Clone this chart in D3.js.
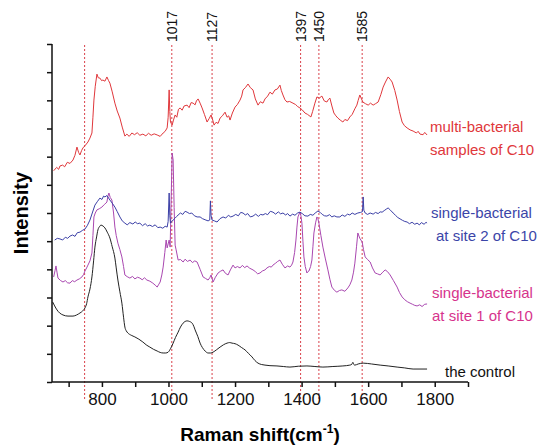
<!DOCTYPE html>
<html>
<head>
<meta charset="utf-8">
<script src="https://cdnjs.cloudflare.com/ajax/libs/d3/7.8.5/d3.min.js"></script>
<style>
body { margin:0; background:#fff; }
text { font-family: "Liberation Sans", Arial, sans-serif; }
</style>
</head>
<body>
<div id="chart"></div>
<script>
var width = 539;
var height = 445;

// spectra, [Raman shift, intensity]
var multiBacterial = [[655,7.50],[664,7.62],[670,7.55],[674,7.67],[682,7.70],[688,7.64],[696,7.80],[704,7.76],[713,7.88],[719,8.05],[725,8.34],[730,8.15],[734,8.06],[739,8.22],[743,8.31],[750,8.40],[758,8.52],[764,8.66],[770,8.84],[773,9.40],[776,10.01],[780,10.50],[785,10.93],[789,10.80],[794,10.79],[799,10.70],[803,10.72],[809,10.68],[815,10.83],[820,10.70],[824,10.61],[831,10.30],[839,9.90],[846,9.62],[854,9.37],[861,9.05],[869,8.73],[875,8.80],[882,8.72],[890,8.84],[898,8.78],[906,8.85],[914,8.76],[923,8.80],[932,8.74],[940,8.83],[948,8.76],[957,8.81],[966,8.77],[975,8.72],[984,8.84],[990,8.90],[996,9.02],[999,9.40],[1002,10.37],[1004,9.60],[1006,9.23],[1011,9.12],[1015,9.30],[1020,9.48],[1025,9.40],[1030,9.68],[1035,9.73],[1041,9.65],[1047,9.80],[1056,9.83],[1062,9.74],[1068,9.92],[1074,9.90],[1080,9.84],[1084,9.98],[1089,10.05],[1095,9.90],[1101,9.73],[1108,9.50],[1116,9.23],[1122,9.35],[1128,9.48],[1133,9.30],[1137,9.12],[1143,9.22],[1149,9.18],[1155,9.37],[1162,9.45],[1170,9.58],[1176,9.40],[1181,9.45],[1185,9.30],[1192,9.55],[1200,9.76],[1207,9.85],[1215,10.01],[1220,10.15],[1224,10.37],[1231,10.45],[1239,10.58],[1246,10.45],[1254,10.37],[1261,10.05],[1269,9.83],[1276,9.95],[1284,9.90],[1290,10.05],[1298,10.15],[1305,10.29],[1312,10.22],[1320,10.37],[1327,10.40],[1335,10.54],[1339,10.35],[1344,10.19],[1350,10.02],[1356,9.94],[1364,9.96],[1374,9.90],[1382,9.85],[1388,9.78],[1395,9.73],[1402,9.66],[1410,9.55],[1418,9.50],[1428,9.41],[1433,9.60],[1440,9.90],[1446,10.12],[1453,10.08],[1461,10.15],[1468,9.98],[1476,9.94],[1480,10.02],[1485,10.08],[1491,9.80],[1497,9.55],[1503,9.45],[1509,9.37],[1516,9.30],[1524,9.23],[1530,9.32],[1538,9.28],[1545,9.41],[1552,9.50],[1560,9.70],[1566,9.83],[1570,10.00],[1575,10.19],[1580,10.05],[1584,9.94],[1592,9.88],[1600,9.83],[1607,9.90],[1615,9.83],[1622,9.88],[1630,9.94],[1638,10.20],[1645,10.47],[1652,10.65],[1660,10.83],[1666,10.75],[1672,10.65],[1680,10.35],[1687,10.01],[1694,9.60],[1702,9.23],[1709,9.10],[1717,9.02],[1726,8.95],[1735,8.91],[1745,8.84],[1750,8.90],[1756,8.80],[1765,8.78],[1770,8.86],[1777,8.77]];

var site2 = [[658,5.04],[666,5.10],[674,5.08],[682,5.04],[690,5.14],[697,5.10],[704,5.18],[712,5.22],[719,5.17],[726,5.30],[734,5.32],[741,5.38],[749,5.43],[756,5.55],[764,5.75],[771,6.00],[779,6.28],[786,6.40],[794,6.53],[800,6.48],[805,6.60],[809,6.57],[815,6.62],[824,6.46],[831,6.35],[839,6.21],[846,6.05],[854,5.86],[861,5.72],[869,5.64],[876,5.58],[884,5.66],[893,5.61],[900,5.68],[907,5.62],[914,5.64],[922,5.55],[930,5.62],[937,5.54],[944,5.57],[952,5.52],[960,5.58],[968,5.48],[975,5.50],[983,5.46],[990,5.53],[996,5.50],[999,5.70],[1002,6.71],[1004,5.90],[1006,5.64],[1010,5.70],[1014,5.75],[1020,5.82],[1025,5.88],[1029,5.93],[1036,6.00],[1043,5.95],[1050,6.06],[1056,6.03],[1063,5.98],[1070,6.00],[1078,5.90],[1086,5.86],[1095,5.86],[1102,5.80],[1110,5.76],[1119,5.72],[1124,5.75],[1126,6.43],[1128,5.90],[1131,5.75],[1138,5.72],[1146,5.68],[1155,5.80],[1164,5.86],[1172,5.82],[1180,5.92],[1187,5.86],[1194,5.89],[1202,5.95],[1210,5.90],[1217,6.02],[1224,6.00],[1231,5.93],[1238,5.98],[1246,5.86],[1254,5.89],[1262,5.96],[1270,5.88],[1277,5.95],[1284,5.93],[1291,5.98],[1298,5.94],[1306,6.06],[1314,6.03],[1322,5.96],[1330,6.04],[1337,5.97],[1344,6.00],[1352,5.93],[1358,5.98],[1365,5.89],[1373,5.96],[1380,5.92],[1388,6.00],[1395,6.03],[1402,5.98],[1410,5.90],[1419,5.89],[1426,5.95],[1434,5.92],[1441,6.00],[1449,6.07],[1456,6.02],[1462,5.95],[1469,5.90],[1476,5.89],[1484,5.94],[1491,5.86],[1498,5.90],[1506,5.86],[1515,5.86],[1522,5.93],[1530,5.88],[1538,5.96],[1545,5.93],[1552,6.00],[1560,5.95],[1569,6.00],[1577,6.02],[1583,6.05],[1585,6.57],[1587,6.10],[1591,6.00],[1598,5.95],[1606,6.00],[1615,5.96],[1622,6.02],[1630,5.98],[1636,6.04],[1642,6.03],[1650,6.10],[1656,6.15],[1660,6.18],[1667,6.10],[1675,6.00],[1682,5.92],[1689,5.84],[1696,5.79],[1703,5.74],[1710,5.70],[1717,5.68],[1724,5.62],[1732,5.67],[1740,5.60],[1747,5.64],[1754,5.58],[1760,5.66],[1768,5.60],[1774,5.67],[1777,5.64]];

var site1 = [[655,3.73],[659,3.95],[662,4.12],[665,3.90],[668,3.69],[676,3.60],[683,3.55],[690,3.60],[697,3.52],[704,3.51],[711,3.60],[718,3.56],[725,3.62],[732,3.66],[740,3.73],[745,3.82],[749,3.94],[754,4.05],[758,4.15],[764,4.30],[770,4.58],[773,5.20],[776,5.86],[780,6.00],[785,6.11],[792,6.15],[800,6.21],[807,6.30],[812,6.35],[815,6.39],[818,6.60],[821,6.71],[825,6.55],[830,6.46],[835,6.00],[839,5.50],[843,5.20],[848,4.93],[854,4.70],[860,4.44],[865,4.10],[869,3.80],[876,3.74],[884,3.69],[892,3.75],[899,3.66],[907,3.72],[914,3.69],[921,3.63],[928,3.70],[935,3.62],[944,3.58],[953,3.51],[960,3.44],[966,3.37],[970,3.45],[975,3.55],[980,3.80],[984,4.08],[989,4.60],[993,5.04],[996,4.76],[999,4.90],[1002,5.04],[1005,4.79],[1008,6.46],[1011,8.13],[1014,7.88],[1017,6.20],[1020,4.86],[1023,4.69],[1029,4.33],[1036,4.35],[1044,4.26],[1050,4.36],[1057,4.28],[1065,4.33],[1072,4.24],[1079,4.30],[1086,4.26],[1095,4.00],[1104,3.73],[1111,3.68],[1119,3.62],[1124,3.70],[1128,3.80],[1134,3.55],[1141,3.72],[1149,3.87],[1156,3.93],[1164,3.98],[1171,3.86],[1179,3.80],[1186,3.98],[1194,4.15],[1200,4.05],[1207,4.10],[1215,4.05],[1222,4.14],[1229,4.06],[1236,4.12],[1244,4.04],[1254,3.98],[1261,3.92],[1268,3.84],[1275,3.87],[1282,3.94],[1290,3.98],[1296,4.05],[1303,4.10],[1309,4.08],[1314,4.15],[1322,4.22],[1328,4.28],[1335,4.33],[1342,4.18],[1350,4.05],[1358,4.12],[1365,4.08],[1370,4.15],[1374,4.26],[1379,4.60],[1383,5.04],[1386,5.50],[1389,5.86],[1395,6.03],[1398,5.90],[1401,5.64],[1404,5.00],[1407,4.44],[1411,4.10],[1416,3.87],[1419,3.92],[1422,3.94],[1427,4.10],[1431,4.33],[1434,4.80],[1437,5.29],[1442,5.65],[1446,5.86],[1449,5.80],[1452,5.64],[1458,5.20],[1464,4.79],[1471,4.40],[1479,3.98],[1485,3.65],[1491,3.37],[1499,3.25],[1506,3.19],[1514,3.25],[1521,3.27],[1530,3.22],[1539,3.34],[1545,3.45],[1551,3.62],[1556,3.90],[1560,4.22],[1565,4.80],[1569,5.29],[1575,5.10],[1582,4.97],[1586,4.70],[1591,4.44],[1598,4.35],[1606,4.26],[1613,4.05],[1621,3.87],[1628,3.84],[1636,3.80],[1644,3.90],[1651,3.98],[1658,3.92],[1666,3.80],[1676,3.60],[1687,3.37],[1694,3.18],[1702,3.02],[1710,2.92],[1718,2.85],[1726,2.80],[1733,2.76],[1740,2.72],[1747,2.70],[1755,2.74],[1762,2.68],[1770,2.76],[1777,2.77]];

var control = [[652,2.84],[658,2.70],[665,2.56],[673,2.45],[683,2.38],[698,2.34],[713,2.34],[724,2.38],[734,2.45],[742,2.52],[749,2.63],[754,2.78],[758,3.02],[764,3.30],[770,3.73],[775,4.30],[779,4.79],[784,5.15],[788,5.40],[793,5.52],[797,5.57],[803,5.54],[809,5.47],[816,5.32],[824,5.11],[831,4.80],[839,4.40],[843,4.05],[848,3.62],[854,3.20],[860,2.80],[865,2.30],[869,1.95],[873,1.82],[878,1.74],[888,1.66],[899,1.60],[911,1.52],[923,1.42],[933,1.32],[944,1.24],[955,1.16],[966,1.10],[975,1.05],[984,1.03],[992,1.03],[999,1.06],[1006,1.18],[1014,1.38],[1021,1.58],[1029,1.77],[1036,1.95],[1044,2.09],[1050,2.15],[1056,2.17],[1063,2.15],[1071,2.09],[1076,1.98],[1080,1.85],[1088,1.62],[1095,1.38],[1102,1.22],[1110,1.10],[1119,1.03],[1127,1.03],[1134,1.06],[1145,1.15],[1155,1.24],[1165,1.32],[1176,1.38],[1184,1.40],[1191,1.38],[1200,1.36],[1209,1.31],[1220,1.22],[1230,1.14],[1240,1.02],[1251,0.89],[1260,0.76],[1269,0.67],[1280,0.62],[1290,0.60],[1305,0.58],[1326,0.57],[1345,0.55],[1365,0.53],[1390,0.56],[1416,0.57],[1440,0.55],[1464,0.53],[1494,0.55],[1524,0.57],[1545,0.60],[1551,0.63],[1554,0.70],[1557,0.62],[1560,0.60],[1570,0.64],[1585,0.67],[1610,0.64],[1636,0.60],[1660,0.57],[1687,0.53],[1710,0.50],[1735,0.46],[1777,0.46]];

// dashed marker lines and their labels
var markerShifts = [748, 1010, 1131, 1397, 1452, 1582];
var markerLabels = ["", "1017", "1127", "1397", "1450", "1585"];

var xTicks = [700, 800, 900, 1000, 1100, 1200, 1300, 1400, 1500, 1600, 1700, 1800, 1900];
var xLabelTicks = [800, 1000, 1200, 1400, 1600, 1800];
var yTicks = [0, 1, 2, 3, 4, 5, 6, 7, 8, 9, 10, 11, 12];

var seriesNames = [["multi-bacterial", "samples of C10"], ["single-bacterial", "at site 2 of C10"], ["single-bacterial", "at site 1 of C10"], ["the control"]];

var x = d3.scaleLinear().domain([650, 1900]).range([52, 468]);
var y = d3.scaleLinear().domain([0, 12]).range([382, 44]);

var svg = d3.select("#chart")
            .append("svg")
            .attr("width", width)
            .attr("height", height);

// marker lines first, curves go on top
svg.selectAll("line.marker")
    .data(markerShifts)
    .enter()
    .append("line")
    .attr("class", "marker")
    .attr("x1", function(d){ return x(d); })
    .attr("x2", function(d){ return x(d); })
    .attr("y1", 45)
    .attr("y2", 400)
    .style("stroke", "#d9414a")
    .style("stroke-width", 1)
    .style("stroke-dasharray", "2,2");

svg.selectAll("text.marker")
    .data(markerShifts)
    .enter()
    .append("text")
    .attr("class", "marker")
    .attr("transform", function(d){ return "translate(" + x(d) + ",42) rotate(-90)"; })
    .attr("dy", "0.35em")
    .style("font-size", "14px")
    .style("fill", "#111")
    .text(function(d, i){ return markerLabels[i]; });

var line = d3.line()
            .x(function(d){ return x(d[0]); })
            .y(function(d){ return y(d[1]); });

var smoothLine = d3.line()
            .curve(d3.curveMonotoneX)
            .x(function(d){ return x(d[0]); })
            .y(function(d){ return y(d[1]); });

svg.append("path").datum(control).attr("d", smoothLine)
    .style("fill", "none").style("stroke", "#222").style("stroke-width", 1);
svg.append("path").datum(site1).attr("d", line)
    .style("fill", "none").style("stroke", "#a947b0").style("stroke-width", 1);
svg.append("path").datum(site2).attr("d", line)
    .style("fill", "none").style("stroke", "#3b3fa6").style("stroke-width", 1);
svg.append("path").datum(multiBacterial).attr("d", line)
    .style("fill", "none").style("stroke", "#e0373b").style("stroke-width", 1);

// axes
var xAxis = d3.axisBottom(x)
            .tickValues(xTicks)
            .tickSize(5)
            .tickPadding(6)
            .tickFormat(function(d){ return xLabelTicks.indexOf(d) >= 0 ? d : ""; });

var yAxis = d3.axisLeft(y)
            .tickValues(yTicks)
            .tickSize(5)
            .tickFormat("");

var gx = svg.append("g")
    .attr("transform", "translate(0," + y(0) + ")")
    .call(xAxis);
gx.select(".domain").attr("d", "M" + x(650) + ",0H" + x(1900));
gx.selectAll("text").style("font-size", "17px").style("fill", "#111").style("font-family", "Liberation Sans, Arial, sans-serif");

var gy = svg.append("g")
    .attr("transform", "translate(" + x(650) + ",0)")
    .call(yAxis);
gy.select(".domain").attr("d", "M0," + y(12) + "V" + y(0));

svg.selectAll(".domain, .tick line").style("stroke", "#111").style("stroke-width", 1.5);

svg.append("text")
    .attr("x", 260)
    .attr("y", 441)
    .attr("text-anchor", "middle")
    .style("font-size", "19px")
    .style("font-weight", "bold")
    .html('Raman shift(cm<tspan dy="-8" font-size="12px">-1</tspan><tspan dy="8">)</tspan>');

svg.append("text")
    .attr("transform", "translate(28,213) rotate(-90)")
    .attr("text-anchor", "middle")
    .style("font-size", "20px")
    .style("font-weight", "bold")
    .text("Intensity");

// series labels
var labelColors = ["#e0373b", "#3b45a8", "#d6338c", "#111"];
var labelX = [430, 431, 432, 445];
var labelY = [132, 218, 298, 377];
var labelX2 = [430, 436, 432, 445];

seriesNames.forEach(function(lines, i){
    var t = svg.append("text")
        .attr("y", labelY[i])
        .style("font-size", "15px")
        .style("fill", labelColors[i]);
    lines.forEach(function(s, j){
        t.append("tspan")
            .attr("x", j == 0 ? labelX[i] : labelX2[i])
            .attr("dy", j == 0 ? 0 : 23)
            .text(s);
    });
});
</script>
</body>
</html>
